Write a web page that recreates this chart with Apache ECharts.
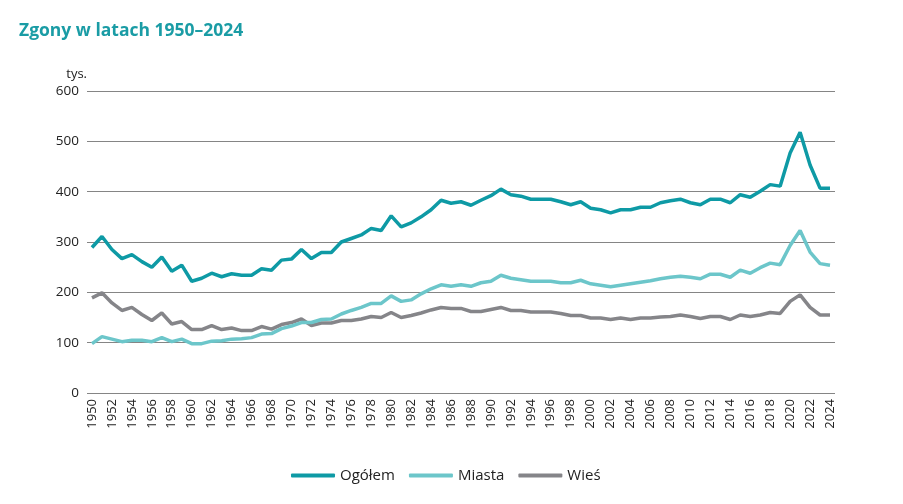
<!DOCTYPE html>
<html>
<head>
<meta charset="utf-8">
<script src="https://cdn.jsdelivr.net/npm/echarts@6/dist/echarts.min.js"></script>
<style>
  html, body { margin: 0; padding: 0; background: #fff; }
  #chart { width: 903px; height: 504px; }
</style>
</head>
<body>
<div id="chart"></div>
<script>
// lata 1950-2024
var years = [];
for (var y = 1950; y <= 2024; y++) years.push(String(y));

// zgony, tys.
var ogolem = [289, 311, 285, 267, 275, 261, 250, 270, 242, 254,
              222, 228, 238, 231, 237, 234, 234, 247, 244, 264,
              266, 285, 267, 279, 279, 300, 307, 314, 327, 323,
              352, 330, 338, 350, 364, 383, 377, 380, 373, 383,
              392, 405, 394, 391, 385, 385, 385, 380, 374, 380,
              367, 364, 358, 364, 364, 369, 369, 378, 382, 385,
              378, 374, 385, 385, 378, 394, 389, 401, 414, 411,
              477, 518, 453, 407, 407];
var miasta = [98, 112, 107, 102, 105, 105, 102, 110, 102, 107,
              98, 98, 103, 104, 107, 108, 110, 117, 118, 128,
              133, 140, 140, 146, 147, 157, 164, 170, 178, 178,
              193, 182, 185, 197, 207, 215, 212, 215, 212, 219,
              222, 234, 228, 225, 222, 222, 222, 219, 219, 224,
              217, 214, 211, 214, 217, 220, 223, 227, 230, 232,
              230, 227, 236, 236, 230, 244, 238, 249, 258, 255,
              293, 323, 280, 257, 254];
var wies = [189, 199, 179, 164, 170, 156, 144, 159, 137, 142,
            126, 126, 134, 126, 129, 124, 124, 132, 127, 136,
            140, 147, 134, 139, 139, 144, 144, 147, 152, 150,
            160, 150, 154, 159, 165, 170, 168, 168, 162, 162,
            166, 170, 164, 164, 161, 161, 161, 158, 154, 154,
            149, 149, 146, 149, 146, 149, 149, 151, 152, 155,
            152, 148, 152, 152, 146, 155, 152, 155, 160, 158,
            182, 195, 170, 155, 155];
var yTicks = [0, 100, 200, 300, 400, 500, 600];

var font = '"Open Sans", "Noto Sans", sans-serif';
var colors = ['#0e9aa5', '#6cc6ca', '#858589'];

var myChart = echarts.init(document.getElementById('chart'));
var option = {
    animation: false,
    title: {
        text: 'Zgony w latach 1950–2024',
        left: 14, top: 17,
        textStyle: { color: '#1a9ca5', fontSize: 17.5, fontWeight: 'bold', fontFamily: font }
    },
    legend: {
        bottom: 16, left: 286,
        icon: 'roundRect', itemWidth: 44, itemHeight: 4, itemGap: 14,
        textStyle: { color: '#222', fontSize: 15, fontFamily: font },
        data: ['Ogółem', 'Miasta', 'Wieś']
    },
    grid: { left: 87, right: 68, top: 91, bottom: 111 },
    xAxis: {
        type: 'category', data: years, boundaryGap: true,
        axisLine: { show: false },
        axisTick: { show: false },
        axisLabel: { interval: 1, rotate: 90, color: '#222', fontSize: 13, fontFamily: font, margin: 6 }
    },
    yAxis: {
        type: 'value', min: yTicks[0], max: yTicks[yTicks.length - 1], interval: 100,
        name: 'tys.', nameLocation: 'end', nameGap: 10,
        nameTextStyle: { color: '#222', fontSize: 13, fontFamily: font, align: 'right' },
        axisLine: { show: false }, axisTick: { show: false },
        axisLabel: { color: '#222', fontSize: 13.5, fontFamily: font, margin: 8 },
        splitLine: { lineStyle: { color: '#858585', width: 1 } }
    },
    series: [
        { name: 'Ogółem', type: 'line', data: ogolem, symbol: 'none', lineStyle: { width: 3.5, color: colors[0] }, itemStyle: { color: colors[0] }, z: 4 },
        { name: 'Miasta', type: 'line', data: miasta, symbol: 'none', lineStyle: { width: 3.5, color: colors[1] }, itemStyle: { color: colors[1] }, z: 3 },
        { name: 'Wieś', type: 'line', data: wies, symbol: 'none', lineStyle: { width: 3.5, color: colors[2] }, itemStyle: { color: colors[2] }, z: 2 }
    ]
};
myChart.setOption(option);
</script>
</body>
</html>
